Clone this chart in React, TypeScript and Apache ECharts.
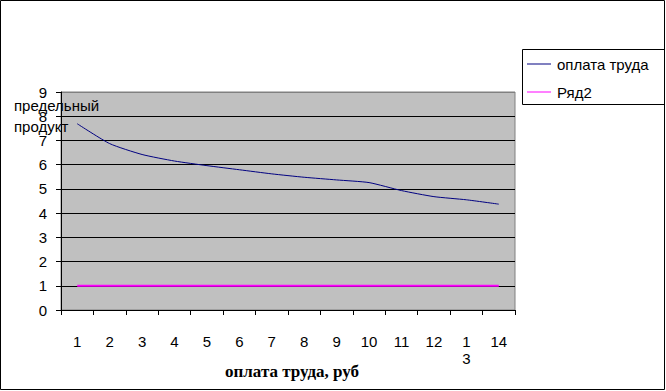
import React, { useEffect, useRef } from "react";
import * as echarts from "echarts";

const categories = ["1", "2", "3", "4", "5", "6", "7", "8", "9", "10", "11", "12", "1\n3", "14"];
const wageSeries = [7.69, 6.87, 6.42, 6.15, 5.96, 5.79, 5.62, 5.48, 5.37, 5.26, 4.93, 4.68, 4.55, 4.37];
const series2 = [1, 1, 1, 1, 1, 1, 1, 1, 1, 1, 1, 1, 1, 1];
const seriesNames = ["оплата труда", "Ряд2"];
const xTitle = "оплата труда, руб";
const yTitle = "предельный\nпродукт";

export default function App() {
  const ref = useRef<HTMLDivElement>(null);
  useEffect(() => {
    const chart = echarts.init(ref.current!, null, { renderer: "svg" });
    const font = "'Liberation Sans', Arial, sans-serif";
    const splitColors = ["#000", "#000", "#000", "#000", "#000", "#000", "#000", "#000", "#000", "#808080"];
    chart.setOption({
      animation: false,
      backgroundColor: "#ffffff",
      grid: {
        left: 61,
        top: 92,
        right: 151,
        bottom: 81,
        show: true,
        backgroundColor: "#c0c0c0",
        borderColor: "#808080",
        borderWidth: 1,
        containLabel: false,
      },
      legend: {
        left: 527,
        top: 56,
        orient: "vertical",
        itemWidth: 24,
        itemHeight: 1,
        itemGap: 12,
        padding: 0,
        textStyle: { fontFamily: font, fontSize: 15, lineHeight: 16, color: "#000", padding: [0, 0, 0, 1] },
        data: seriesNames.map((n) => ({ name: n, icon: "rect" })),
        selectedMode: false,
      },
      xAxis: {
        type: "category",
        data: categories,
        boundaryGap: true,
        axisLine: { lineStyle: { color: "#000", width: 1 } },
        axisTick: { show: true, length: 5, lineStyle: { color: "#000" } },
        axisLabel: {
          color: "#000",
          fontFamily: font,
          fontSize: 15,
          margin: 23,
          lineHeight: 17,
          interval: 0,
        },
        splitLine: { show: false },
      },
      yAxis: {
        type: "value",
        min: 0,
        max: 9,
        interval: 1,
        axisLine: { show: true, lineStyle: { color: "#000", width: 1 } },
        axisTick: { show: true, length: 5, lineStyle: { color: "#000" } },
        axisLabel: { color: "#000", fontFamily: font, fontSize: 15, margin: 14 },
        splitLine: { show: true, lineStyle: { color: splitColors, width: 1 } },
      },
      series: [
        {
          name: seriesNames[0],
          type: "line",
          data: wageSeries,
          symbol: "none",
          smooth: 0.2,
          lineStyle: { color: "#000080", width: 1 },
          itemStyle: { color: "#000080" },
        },
        {
          name: seriesNames[1],
          type: "line",
          data: series2,
          symbol: "none",
          lineStyle: { color: "#ff00ff", width: 2 },
          itemStyle: { color: "#ff00ff" },
        },
      ],
      graphic: [
        {
          type: "rect",
          shape: { x: 0.5, y: 0.5, width: 664, height: 389 },
          style: { fill: "none", stroke: "#000", lineWidth: 1 },
          silent: true,
        },
        {
          type: "rect",
          shape: { x: 522.5, y: 49.5, width: 142, height: 55 },
          style: { fill: "none", stroke: "#000", lineWidth: 1 },
          silent: true,
        },
        {
          type: "text",
          x: 14,
          y: 95,
          style: {
            text: yTitle,
            fontFamily: font,
            fontSize: 15,
            lineHeight: 21,
            fill: "#000",
            textAlign: "left",
            textVerticalAlign: "top",
          },
          z: 100,
        },
        {
          type: "text",
          x: 292,
          y: 371,
          style: {
            text: xTitle,
            fontFamily: "'Liberation Serif', 'Times New Roman', serif",
            fontWeight: "bold",
            fontSize: 17,
            fill: "#000",
            textAlign: "center",
            textVerticalAlign: "middle",
          },
        },
      ],
    });
    return () => chart.dispose();
  }, []);
  return <div ref={ref} style={{ position: "absolute", left: 0, top: 0, width: 666, height: 391 }} />;
}
